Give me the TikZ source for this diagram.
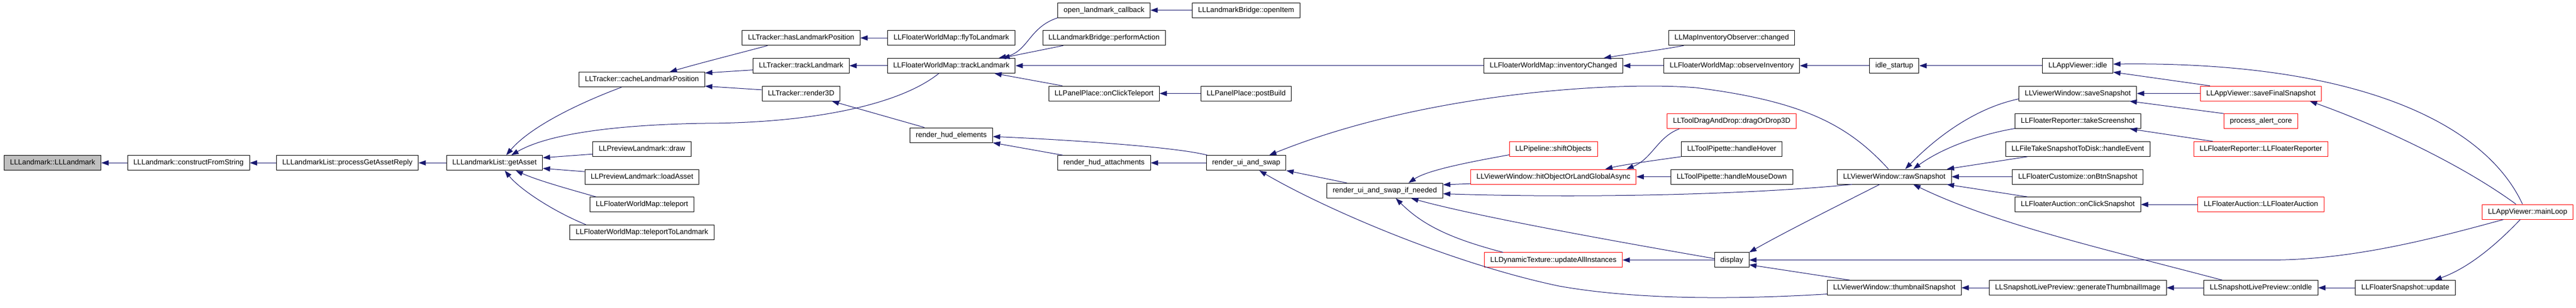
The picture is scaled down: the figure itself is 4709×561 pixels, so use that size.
\documentclass[tikz,border=0pt]{standalone}
\usepackage{fontspec}
\setmainfont{Liberation Sans}
\usetikzlibrary{arrows.meta}
\definecolor{edgeblue}{HTML}{191970}
\definecolor{nodegray}{HTML}{BFBFBF}

\begin{document}
\begin{tikzpicture}[x=0.75pt,y=-0.75pt,
	fn/.style={draw,rectangle,line width=0.75pt,minimum height=20.25pt,
		inner xsep=8pt,inner ysep=0pt,text height=7.5pt,text depth=2pt,
		font=\fontsize{10}{12}\selectfont},
	cut/.style={fn,draw=red},
	call/.style={draw=edgeblue,line width=0.75pt,-{Triangle[length=10pt,width=7pt]}}]

	\useasboundingbox (0,0) rectangle (4709,561);

	% columns, left to right
	\node[fn,fill=nodegray] (lm) at (96.2,297.2) {LLLandmark::LLLandmark};
	\node[fn] (cfs) at (344.6,297.2) {LLLandmark::constructFromString};
	\node[fn] (pgar) at (635,297.2) {LLLandmarkList::processGetAssetReply};
	\node[fn] (ga) at (904,297.2) {LLLandmarkList::getAsset};

	\node[fn] (clp) at (1173.5,145.2) {LLTracker::cacheLandmarkPosition};
	\node[fn] (pld) at (1173.5,271.85) {LLPreviewLandmark::draw};
	\node[fn] (pla) at (1173.5,322.5) {LLPreviewLandmark::loadAsset};
	\node[fn] (wtp) at (1173.5,373.15) {LLFloaterWorldMap::teleport};
	\node[fn] (wttl) at (1173.5,423.8) {LLFloaterWorldMap::teleportToLandmark};

	\node[fn] (hlp) at (1464.5,69.25) {LLTracker::hasLandmarkPosition};
	\node[fn] (ttl) at (1464.5,119.9) {LLTracker::trackLandmark};
	\node[fn] (r3d) at (1464.5,170.55) {LLTracker::render3D};

	\node[fn] (wfly) at (1739,69.25) {LLFloaterWorldMap::flyToLandmark};
	\node[fn] (wtl) at (1739,119.9) {LLFloaterWorldMap::trackLandmark};
	\node[fn] (rhe) at (1739,246.5) {render\_hud\_elements};

	\node[fn] (olc) at (2018.2,18.6) {open\_landmark\_callback};
	\node[fn] (lbpa) at (2018.2,69.25) {LLLandmarkBridge::performAction};
	\node[fn] (ppct) at (2018.2,170.55) {LLPanelPlace::onClickTeleport};
	\node[fn] (rha) at (2018.2,297.2) {render\_hud\_attachments};

	\node[fn] (lboi) at (2278,18.6) {LLLandmarkBridge::openItem};
	\node[fn] (pppb) at (2278,170.55) {LLPanelPlace::postBuild};
	\node[fn] (ruas) at (2278,297.2) {render\_ui\_and\_swap};

	\node[fn] (ruasn) at (2531.5,347.8) {render\_ui\_and\_swap\_if\_needed};

	\node[fn] (wic) at (2839.7,119.9) {LLFloaterWorldMap::inventoryChanged};
	\node[cut] (pso) at (2839.7,271.85) {LLPipeline::shiftObjects};
	\node[cut] (vhit) at (2839.7,322.5) {LLViewerWindow::hitObjectOrLandGlobalAsync};
	\node[cut] (dtu) at (2839.7,474.45) {LLDynamicTexture::updateAllInstances};

	\node[fn] (mioc) at (3165.7,69.25) {LLMapInventoryObserver::changed};
	\node[fn] (woi) at (3165.7,119.9) {LLFloaterWorldMap::observeInventory};
	\node[cut] (tdd) at (3165.7,221.2) {LLToolDragAndDrop::dragOrDrop3D};
	\node[fn] (tph) at (3165.7,271.85) {LLToolPipette::handleHover};
	\node[fn] (tpm) at (3165.7,322.5) {LLToolPipette::handleMouseDown};
	\node[fn] (disp) at (3165.7,474.45) {display};

	\node[fn] (idst) at (3462.8,119.9) {idle\_startup};
	\node[fn] (vraw) at (3462.8,322.5) {LLViewerWindow::rawSnapshot};
	\node[fn] (vthumb) at (3462.8,525.1) {LLViewerWindow::thumbnailSnapshot};

	\node[fn] (aidle) at (3798.2,119.9) {LLAppViewer::idle};
	\node[fn] (vsave) at (3798.2,170.55) {LLViewerWindow::saveSnapshot};
	\node[fn] (frts) at (3798.2,221.2) {LLFloaterReporter::takeScreenshot};
	\node[fn] (ftsd) at (3798.2,271.85) {LLFileTakeSnapshotToDisk::handleEvent};
	\node[fn] (fcbs) at (3798.2,322.5) {LLFloaterCustomize::onBtnSnapshot};
	\node[fn] (facs) at (3798.2,373.15) {LLFloaterAuction::onClickSnapshot};
	\node[fn] (slgt) at (3798.2,525.1) {LLSnapshotLivePreview::generateThumbnailImage};

	\node[cut] (afin) at (4133,170.55) {LLAppViewer::saveFinalSnapshot};
	\node[cut] (pac) at (4133,221.2) {process\_alert\_core};
	\node[cut] (frep) at (4133,271.85) {LLFloaterReporter::LLFloaterReporter};
	\node[cut] (fauc) at (4133,373.15) {LLFloaterAuction::LLFloaterAuction};
	\node[fn] (slidle) at (4133,525.1) {LLSnapshotLivePreview::onIdle};

	\node[fn] (fsup) at (4397,525.1) {LLFloaterSnapshot::update};
	\node[cut] (aml) at (4620.5,386.5) {LLAppViewer::mainLoop};

	% calls into the landmark code
	\draw[call] (cfs.west) -- (lm.east);
	\draw[call] (pgar.west) -- (cfs.east);
	\draw[call] (ga.west) -- (pgar.east);
	\draw[call] ([xshift=-28pt]clp.south) .. controls (1080,180) and (975,225) .. ([xshift=16pt]ga.north);
	\draw[call] ([xshift=-17pt]wtl.south) .. controls (1640,195) and (1470,225) .. (1285,225)
		.. controls (1120,228) and (1000,245) .. ([xshift=23pt]ga.north);
	\draw[call] ([yshift=-7pt]pld.west) -- ([yshift=7pt]ga.east);
	\draw[call] ([yshift=7pt]pla.west) -- ([yshift=-7.5pt]ga.east);
	\draw[call] ([xshift=-63pt]wtp.north) .. controls (1040,345) and (985,330) .. ([xshift=29pt]ga.south);
	\draw[call] ([xshift=-77pt]wttl.north) .. controls (1010,385) and (950,345) .. ([xshift=14pt]ga.south);

	\draw[call] ([xshift=-46pt]hlp.south) .. controls (1340,100) and (1280,115) .. ([xshift=38pt]clp.north);
	\draw[call] ([yshift=-5.8pt]ttl.west) -- ([yshift=9pt]clp.east);
	\draw[call] ([yshift=5pt]r3d.west) -- ([yshift=-9pt]clp.east);
	\draw[call] ([xshift=-37pt]rhe.north) -- ([xshift=42pt]r3d.south);
	\draw[call] (wfly.west) -- (hlp.east);
	\draw[call] (wtl.west) -- (ttl.east);

	\draw[call] (olc.south west) .. controls (1880,50) and (1880,95) .. ([xshift=65pt]wtl.north);
	\draw[call] ([xshift=-56pt]lbpa.south) .. controls (1900,92) and (1860,100) .. ([xshift=70pt]wtl.north);
	\draw[call] (wic.west) -- (wtl.east);
	\draw[call] ([xshift=-57pt]ppct.north) -- ([xshift=59pt]wtl.south);
	\draw[call] (lboi.west) -- (olc.east);
	\draw[call] (pppb.west) -- (ppct.east);

	% render path
	\draw[call] ([xshift=2pt]ruas.north west) .. controls (2150,268) and (1950,255) .. ([yshift=-2pt]rhe.east);
	\draw[call] ([xshift=7.5pt]rha.north west) -- (rhe.south east);
	\draw[call] (ruas.west) -- (rha.east);
	\draw[call] ([xshift=-8pt]vraw.north) .. controls (3380,230) and (3300,185) .. (3100,160)
		.. controls (2950,148) and (2600,170) .. ([xshift=31.5pt]ruas.north);
	\draw[call] ([xshift=-52pt]ruasn.north) -- (ruas.south east);
	\draw[call] ([yshift=-8.6pt]vthumb.west) .. controls (3150,548) and (2980,545) .. (2850,522)
		.. controls (2650,480) and (2420,380) .. ([xshift=18pt]ruas.south);

	\draw[call] ([yshift=-8pt]pso.west) .. controls (2690,295) and (2610,310) .. ([xshift=32.5pt]ruasn.north);
	\draw[call] ([yshift=-9.5pt]vhit.west) -- ([yshift=8pt]ruasn.east);
	\draw[call] ([xshift=-58pt]vraw.south) .. controls (3200,355) and (2900,362) .. ([yshift=-4.3pt]ruasn.east);
	\draw[call] ([yshift=2pt]disp.west) .. controls (2950,440) and (2700,395) .. ([xshift=36pt]ruasn.south);
	\draw[call] ([xshift=-69pt]dtu.north) .. controls (2650,435) and (2600,410) .. ([xshift=15pt]ruasn.south);

	\draw[call] ([xshift=-72pt]tdd.south) .. controls (3030,250) and (3020,290) .. ([xshift=100pt]vhit.north);
	\draw[call] (tph.south west) .. controls (3030,292) and (2970,300) .. ([xshift=71pt]vhit.north);
	\draw[call] (tpm.west) -- (vhit.east);
	\draw[call] (disp.west) -- (dtu.east);

	% inventory / idle
	\draw[call] ([xshift=-66pt]mioc.south) .. controls (3030,92) and (2980,98) .. ([xshift=69pt]wic.north);
	\draw[call] (woi.west) -- (wic.east);
	\draw[call] (idst.west) -- (woi.east);
	\draw[call] (aidle.west) -- (idst.east);
	\draw[call] ([xshift=13.5pt]afin.north west) -- ([yshift=-8.8pt]aidle.east);

	% snapshots
	\draw[call] (afin.west) -- (vsave.east);
	\draw[call] (pac.north west) -- ([xshift=-10pt]vsave.south east);
	\draw[call] ([xshift=-66pt]frep.north) -- ([xshift=-15pt]frts.south east);
	\draw[call] (fauc.west) -- (facs.east);
	\draw[call] ([yshift=-7.5pt]vsave.west) .. controls (3620,195) and (3550,240) .. ([xshift=15pt]vraw.north);
	\draw[call] ([yshift=-10pt]frts.west) .. controls (3620,245) and (3550,270) .. ([xshift=26pt]vraw.north);
	\draw[call] ([xshift=-69pt]ftsd.south) -- ([xshift=72pt]vraw.north);
	\draw[call] (fcbs.west) -- (vraw.east);
	\draw[call] ([xshift=-69pt]facs.north) -- ([xshift=72pt]vraw.south);
	\draw[call] ([xshift=-53pt]slidle.north) .. controls (3850,455) and (3650,410) .. ([xshift=26pt]vraw.south);
	\draw[call] ([xshift=-20pt]vraw.south) .. controls (3350,380) and (3260,425) .. (disp.north east);
	\draw[call] ([xshift=-61pt]vthumb.north) -- ([yshift=-6.5pt]disp.east);
	\draw[call] (slgt.west) -- (vthumb.east);
	\draw[call] (slidle.west) -- (slgt.east);
	\draw[call] (fsup.west) -- (slidle.east);

	% main loop
	\draw[call] ([xshift=-33pt]aml.south) .. controls (4450,435) and (4300,474.45) .. (4150,474.45) -- (disp.east);
	\draw[call] ([xshift=-10pt]aml.south) .. controls (4560,450) and (4510,490) .. ([xshift=40pt]fsup.north);
	\draw[call] ([xshift=-16pt]aml.north) .. controls (4500,300) and (4350,230) .. ([xshift=67pt]afin.south);
	\draw[call] ([xshift=-7pt]aml.north) .. controls (4540,220) and (4300,112) .. ([yshift=2.2pt]aidle.east);

\end{tikzpicture}
\end{document}
